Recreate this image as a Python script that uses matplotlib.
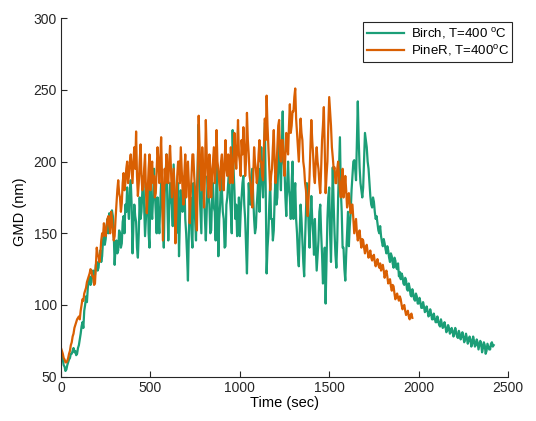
import numpy as np
import matplotlib
matplotlib.use("Agg")
import matplotlib.pyplot as plt

plt.rcParams['font.family'] = ['Liberation Sans', 'DejaVu Sans']
plt.rcParams['mathtext.fontset'] = 'custom'
plt.rcParams['mathtext.rm'] = 'Liberation Sans'

# sampling step of the read-off values (sec)
step = 5

# Birch, T=400 C  (GMD in nm, one value every 5 s starting at t=0)
birch_gmd = [
    68, 65, 62, 58, 57, 54, 55, 58, 60, 62, 63, 66, 66, 68, 70, 67, 68, 65, 66, 70,
    72, 76, 80, 85, 88, 84, 96, 100, 106, 102, 112, 118, 120, 114, 116, 122, 124, 118, 121, 128,
    130, 124, 126, 134, 138, 130, 134, 145, 150, 142, 146, 155, 160, 150, 164, 158, 158, 166, 162, 150,
    128, 140, 145, 136, 138, 152, 150, 140, 143, 158, 162, 150, 170, 165, 182, 168, 160, 178, 187, 170,
    136, 155, 170, 162, 158, 140, 133, 150, 175, 160, 165, 180, 190, 170, 148, 160, 172, 185, 150, 140,
    180, 168, 160, 175, 195, 178, 165, 150, 175, 160, 150, 170, 185, 172, 160, 140, 178, 190, 205, 170,
    145, 165, 185, 175, 170, 155, 198, 178, 160, 150, 175, 185, 134, 160, 180, 170, 165, 182, 190, 160,
    150, 135, 117, 150, 168, 175, 150, 140, 185, 170, 160, 145, 178, 200, 226, 180, 165, 150, 195, 180,
    175, 160, 145, 165, 190, 178, 170, 150, 152, 175, 185, 168, 165, 145, 200, 180, 134, 160, 170, 190,
    180, 165, 160, 140, 141, 170, 175, 185, 195, 175, 165, 150, 222, 195, 180, 160, 170, 148, 150, 175,
    148, 165, 175, 185, 190, 170, 160, 140, 122, 150, 185, 172, 170, 190, 195, 175, 160, 150, 154, 170,
    180, 195, 165, 185, 210, 190, 175, 200, 227, 180, 122, 140, 150, 170, 185, 160, 160, 145, 152, 175,
    190, 170, 175, 200, 215, 195, 180, 210, 235, 200, 195, 175, 162, 185, 200, 180, 175, 160, 185, 200,
    160, 175, 185, 160, 150, 135, 127, 150, 170, 160, 145, 130, 120, 145, 165, 185, 175, 155, 140, 160,
    176, 160, 150, 135, 160, 140, 124, 135, 145, 165, 170, 150, 135, 115, 120, 140, 101, 130, 160, 175,
    182, 150, 130, 165, 196, 170, 150, 135, 126, 145, 175, 195, 217, 180, 165, 140, 140, 125, 117, 135,
    150, 165, 141, 155, 164, 180, 190, 200, 201, 195, 187, 215, 242, 215, 196, 185, 180, 175, 182, 200,
    220, 215, 210, 200, 195, 185, 176, 170, 168, 175, 172, 165, 160, 162, 157, 152, 150, 155, 148, 144,
    141, 146, 143, 139, 136, 141, 138, 133, 130, 136, 134, 129, 126, 133, 131, 126, 125, 129, 120, 123,
    118, 122, 120, 115, 114, 119, 117, 111, 110, 115, 112, 107, 106, 111, 108, 104, 103, 108, 106, 101,
    101, 105, 102, 98, 98, 102, 99, 95, 96, 99, 96, 92, 93, 97, 94, 90, 90, 94, 91, 88,
    88, 92, 89, 86, 85, 90, 87, 84, 85, 88, 85, 81, 82, 86, 84, 80, 81, 84, 82, 78,
    80, 84, 81, 78, 77, 82, 80, 76, 78, 81, 78, 74, 76, 80, 77, 73, 75, 78, 76, 71,
    73, 78, 75, 71, 72, 76, 74, 69, 72, 75, 73, 67, 70, 74, 72, 66, 68, 73, 71, 69,
    69, 73, 74, 71, 72,
]

# PineR, T=400 C
pine_gmd = [
    70, 68, 66, 63, 62, 60, 60, 61, 63, 66, 68, 72, 74, 78, 80, 84, 86, 88, 90, 91,
    92, 90, 96, 100, 104, 103, 108, 110, 112, 116, 118, 120, 122, 125, 124, 120, 120, 114, 115, 128,
    140, 135, 134, 130, 136, 145, 150, 148, 157, 150, 148, 155, 160, 162, 155, 150, 165, 160, 152, 145,
    148, 160, 170, 180, 187, 178, 175, 165, 171, 185, 192, 180, 185, 195, 200, 185, 190, 200, 205, 195,
    185, 200, 210, 195, 221, 190, 176, 185, 200, 212, 190, 180, 182, 195, 205, 180, 164, 180, 195, 205,
    180, 195, 200, 185, 190, 175, 178, 195, 210, 200, 185, 200, 217, 190, 145, 170, 195, 185, 205, 190,
    185, 200, 211, 195, 175, 185, 195, 180, 143, 165, 190, 200, 200, 185, 210, 195, 180, 170, 192, 205,
    175, 190, 200, 185, 157, 175, 190, 205, 205, 190, 180, 165, 152, 195, 232, 210, 195, 180, 210, 195,
    168, 190, 229, 205, 190, 175, 205, 195, 175, 190, 200, 210, 185, 195, 222, 200, 195, 185, 180, 200,
    205, 190, 180, 200, 215, 195, 190, 205, 200, 185, 210, 195, 185, 200, 220, 205, 195, 210, 229, 205,
    200, 190, 215, 205, 224, 210, 190, 200, 234, 215, 205, 190, 185, 175, 168, 190, 210, 200, 195, 185,
    190, 205, 215, 200, 200, 190, 187, 210, 230, 215, 246, 225, 210, 195, 180, 190, 195, 210, 222, 200,
    185, 195, 210, 225, 229, 205, 200, 215, 215, 200, 190, 205, 220, 210, 205, 225, 240, 220, 225, 235,
    235, 245, 251, 230, 220, 210, 200, 215, 230, 220, 215, 200, 195, 185, 180, 170, 162, 175, 190, 210,
    229, 215, 205, 190, 185, 200, 210, 200, 195, 185, 178, 195, 215, 225, 238, 210, 178, 190, 200, 225,
    245, 235, 225, 210, 203, 195, 196, 185, 185, 195, 200, 190, 180, 175, 187, 195, 175, 180, 190, 180,
    168, 175, 178, 170, 164, 170, 170, 160, 150, 155, 160, 150, 145, 150, 152, 145, 140, 146, 145, 140,
    136, 140, 142, 137, 133, 136, 138, 133, 131, 134, 135, 130, 127, 130, 132, 128, 126, 129, 124, 127,
    128, 124, 119, 122, 124, 120, 115, 117, 118, 113, 110, 114, 113, 108, 104, 107, 108, 105, 103, 106,
    104, 100, 97, 99, 100, 96, 93, 95, 96, 92, 90, 93, 94, 91,
]

birch_t = np.arange(len(birch_gmd)) * step
pine_t = np.arange(len(pine_gmd)) * step

fig = plt.figure(figsize=(5.36, 4.21), dpi=100)
ax = fig.add_axes([61 / 536, 1 - 376.7 / 421, 447 / 536, 358.5 / 421])

ax.plot(birch_t, birch_gmd, color='#1b9e77', lw=1.6, label=r'Birch, T=400 $^{\mathrm{o}}$C')
ax.plot(pine_t, pine_gmd, color='#d95f02', lw=1.6, label=r'PineR, T=400$^{\mathrm{o}}$C')

ax.set_xlim(0, 2500)
ax.set_ylim(50, 300)
ax.set_xticks([0, 500, 1000, 1500, 2000, 2500])
ax.set_yticks([50, 100, 150, 200, 250, 300])
ax.set_xlabel('Time (sec)', fontsize=10.5, labelpad=1)
ax.set_ylabel('GMD (nm)', fontsize=10.5)
ax.yaxis.set_label_coords(-0.075, 0.46)

for side in ['top', 'right']:
    ax.spines[side].set_visible(False)
for side in ['left', 'bottom']:
    ax.spines[side].set_color('#262626')
    ax.spines[side].set_linewidth(0.8)
ax.tick_params(direction='in', length=4, width=0.8, colors='#262626', labelsize=10, pad=3)

leg = ax.legend(loc='upper right', bbox_to_anchor=(1.01, 0.99), borderaxespad=0,
                fontsize=9.5, fancybox=False, framealpha=1, edgecolor='#262626',
                handlelength=2.8, borderpad=0.3, labelspacing=0.15, handletextpad=0.5)
leg.get_frame().set_linewidth(0.8)

fig.savefig('out.png', dpi=100)
